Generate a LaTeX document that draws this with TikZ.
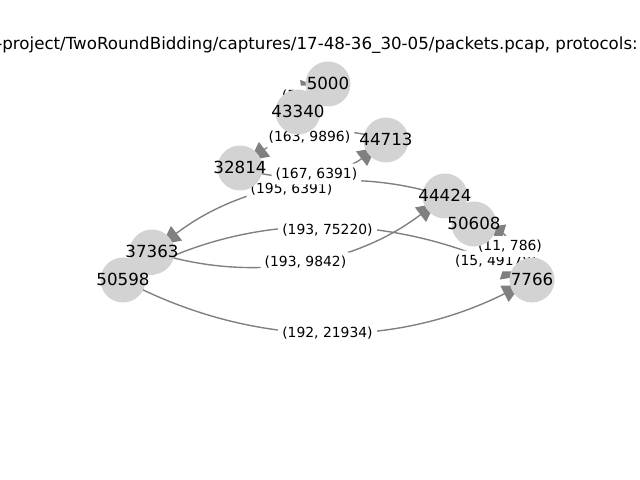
\documentclass[tikz,border=0pt]{standalone}
\usepackage{fontspec}
\setmainfont{DejaVu Sans}
\usetikzlibrary{calc,arrows.meta}
\definecolor{nodegray}{HTML}{D3D3D3}
\definecolor{edgegray}{HTML}{808080}
\pgfdeclarelayer{bglayer}
\pgfdeclarelayer{edgelayer}
\pgfdeclarelayer{labellayer}
\pgfsetlayers{bglayer,edgelayer,labellayer,main}
\newcommand{\arcedge}[4]{%
  \path ($(#1.center)!0.5!(#2.center)$) coordinate (mid-#4);
  \path ($(mid-#4)!0.5!-90:(#2.center)$) coordinate (ctl-#4);
  \begin{pgfonlayer}{edgelayer}
    \draw[edgeline] (#1.center) .. controls ($(#1.center)!0.6667!(ctl-#4)$) and ($(#2.center)!0.6667!(ctl-#4)$) .. (#2.center);
  \end{pgfonlayer}
  \begin{pgfonlayer}{labellayer}
    \node[elabel] (#4) at ($(mid-#4)!0.5!(ctl-#4)$) {#3};
  \end{pgfonlayer}
}
\begin{document}
\begin{tikzpicture}[x=0.72bp,y=-0.72bp,
  vtx/.style={circle,fill=nodegray,draw=none,minimum size=32.4bp,inner sep=0pt},
  vtxtext/.style={font=\fontsize{12bp}{14bp}\selectfont,text=black,inner sep=0pt,yshift=0.5bp},
  elabel/.style={font=\fontsize{10bp}{12bp}\selectfont,fill=white,rounded corners=2.5bp,inner sep=3bp,yshift=-1.2bp},
  edgeline/.style={draw=edgegray,line width=1bp,-{Triangle[length=13bp,width=13bp]},shorten >=9.2bp,shorten <=8.7bp},
  titletext/.style={font=\fontsize{12bp}{14bp}\selectfont,text=black,inner sep=0pt}
]
\useasboundingbox (0,0) rectangle (640,480);
\begin{pgfonlayer}{bglayer}
\fill[white] (0,0) rectangle (640,480);
\end{pgfonlayer}
\clip (0,0) rectangle (640,480);

\node[titletext,anchor=east] (title) at (638,45) {-project/TwoRoundBidding/captures/17-48-36\_30-05/packets.pcap, protocols:};

% node circles
\node[vtx] (n5000)  at (328,84)  {};
\node[vtx] (n43340) at (298,112) {};
\node[vtx] (n44713) at (386,140) {};
\node[vtx] (n32814) at (240,168) {};
\node[vtx] (n44424) at (445,196) {};
\node[vtx] (n50608) at (474,224) {};
\node[vtx] (n37363) at (152,252) {};
\node[vtx] (n50598) at (123,280) {};
\node[vtx] (n7766)  at (532,280) {};

% node texts
\node[vtxtext] (t5000)  at (n5000)  {5000};
\node[vtxtext] (t43340) at (n43340) {43340};
\node[vtxtext] (t44713) at (n44713) {44713};
\node[vtxtext] (t32814) at (n32814) {32814};
\node[vtxtext] (t44424) at (n44424) {44424};
\node[vtxtext] (t50608) at (n50608) {50608};
\node[vtxtext] (t37363) at (n37363) {37363};
\node[vtxtext] (t50598) at (n50598) {50598};
\node[vtxtext] (t7766)  at (n7766)  {7766};

% edges
\arcedge{n5000}{n43340}{(5, 620)}{e1}
\arcedge{n44713}{n32814}{(163, 9896)}{e2}
\arcedge{n44424}{n37363}{(195, 6391)}{e4}
\arcedge{n32814}{n44713}{(167, 6391)}{e3}
\arcedge{n37363}{n44424}{(193, 9842)}{e5}
\arcedge{n7766}{n50598}{(193, 75220)}{e6}
\arcedge{n50598}{n7766}{(192, 21934)}{e7}
\arcedge{n50608}{n7766}{(15, 49178)}{e8}
\arcedge{n7766}{n50608}{(11, 786)}{e9}
\end{tikzpicture}
\end{document}
